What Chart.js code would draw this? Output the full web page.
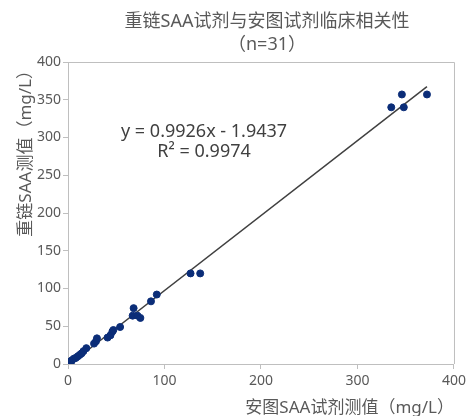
<!DOCTYPE html>
<html lang="zh">
<head>
  <meta charset="UTF-8" />
  <title>重链SAA试剂与安图试剂临床相关性</title>
  <script src="https://cdn.jsdelivr.net/npm/chart.js"></script>
  <style>
    html, body { margin: 0; padding: 0; background: #fff; overflow: hidden; }
  </style>
</head>
<body>
  <canvas id="chart" width="470" height="416"></canvas>
  <script>
    // measured values (安图 = x, 重链 = y), mg/L
    const antuValues = [1, 3, 2, 4, 6, 8, 10, 12, 14, 16, 19, 27, 29, 30, 41, 44, 46, 47, 54,
                        67, 68, 72, 75, 86, 92, 127, 137, 335, 346, 348, 372];
    const heavyValues = [1, 2, 3, 5, 7, 8, 10, 12, 14, 17, 21, 27, 30, 34, 35, 38, 43, 45, 49,
                         64, 74, 64, 61, 83, 92, 120, 120, 340, 357, 340, 357];
    const slope = 0.9926;
    const intercept = -1.9437;
    const fitRange = [2, 372];
    const tickValues = [0, 50, 100, 150, 200, 250, 300, 350, 400];

    const titleLines = ["重链SAA试剂与安图试剂临床相关性", "（n=31）"];
    const eqLines = ["y = 0.9926x - 1.9437", "R² = 0.9974"];

    const FONT = "'Noto Sans', 'Noto Sans CJK SC', sans-serif";
    const txt = "#595959";
    const axisCol = "#bfbfbf";

    const points = antuValues.map((x, i) => ({ x: x, y: heavyValues[i] }));
    const fitLine = fitRange.map(x => ({ x: x, y: slope * x + intercept }));

    const extras = {
      id: "extras",
      afterDraw(chart) {
        const { ctx, chartArea: a, scales } = chart;
        ctx.save();
        // box top & right
        ctx.strokeStyle = axisCol;
        ctx.lineWidth = 1;
        ctx.beginPath();
        ctx.moveTo(a.left, a.top + 0.5);
        ctx.lineTo(a.right + 0.5, a.top + 0.5);
        ctx.lineTo(a.right + 0.5, a.bottom);
        ctx.stroke();
        // title
        ctx.fillStyle = txt;
        ctx.textAlign = "center";
        ctx.textBaseline = "middle";
        ctx.font = "18px " + FONT;
        const cx = (a.left + a.right) / 2 + 6;
        ctx.fillText(titleLines[0], cx, 22);
        ctx.fillText(titleLines[1], cx, 45);
        // equation
        const ex = scales.x.getPixelForValue(141);
        const ey = scales.y.getPixelForValue(307);
        ctx.fillStyle = "#404040";
        ctx.fillText(eqLines[0], ex, ey);
        ctx.fillText(eqLines[1], ex, ey + 20);
        ctx.restore();
      }
    };

    new Chart(document.getElementById("chart"), {
      type: "scatter",
      data: {
        datasets: [
          {
            type: "line",
            data: fitLine,
            borderColor: "#404040",
            borderWidth: 1.5,
            pointRadius: 0,
            fill: false,
            order: 2
          },
          {
            data: points,
            backgroundColor: "#0b2d78",
            borderColor: "#0b2d78",
            pointRadius: 3.5,
            order: 1
          }
        ]
      },
      options: {
        responsive: false,
        animation: false,
        layout: { padding: { top: 62, right: 12, left: 0, bottom: 0 } },
        plugins: {
          legend: { display: false },
          tooltip: { enabled: false }
        },
        scales: {
          x: {
            type: "linear",
            min: 0, max: 400,
            afterBuildTicks: s => { s.ticks = tickValues.filter(v => v % 100 === 0).map(v => ({ value: v })); },
            afterFit: s => { s.height = 52; },
            grid: { drawOnChartArea: false, drawTicks: true, tickLength: 5, color: axisCol },
            border: { color: axisCol },
            ticks: { color: txt, font: { family: FONT, size: 14 }, padding: 4, maxRotation: 0 },
            title: {
              display: true, text: "安图SAA试剂测值（mg/L）", align: "end",
              color: txt, font: { family: FONT, size: 17 }, padding: { top: 0, bottom: -2 }
            }
          },
          y: {
            min: 0, max: 400,
            afterBuildTicks: s => { s.ticks = tickValues.map(v => ({ value: v })); },
            afterFit: s => { s.width = 68; },
            grid: { drawOnChartArea: false, drawTicks: true, tickLength: 5, color: axisCol },
            border: { color: axisCol },
            ticks: { color: txt, font: { family: FONT, size: 14 }, padding: 2 },
            title: {
              display: true, text: "重链SAA测值（mg/L）", align: "end",
              color: txt, font: { family: FONT, size: 17 }, padding: { top: 16, bottom: 0 }
            }
          }
        }
      },
      plugins: [extras]
    });
  </script>
</body>
</html>
